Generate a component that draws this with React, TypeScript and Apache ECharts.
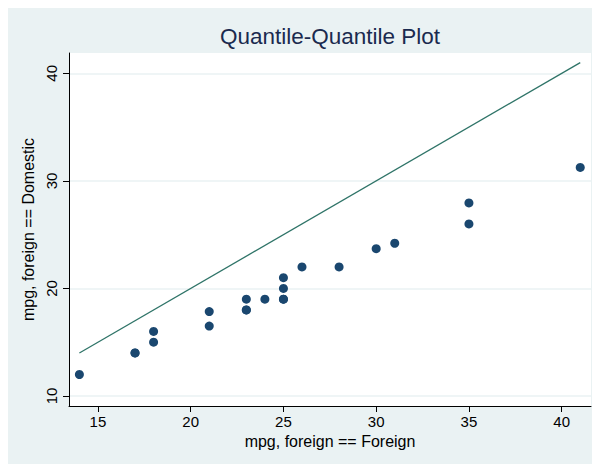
import React, { useEffect, useRef } from "react";
import * as echarts from "echarts";

const titleText = "Quantile-Quantile Plot";
const xAxisName = "mpg, foreign == Foreign";
const yAxisName = "mpg, foreign == Domestic";

// Quantiles: foreign (x) vs domestic (y)
const foreignQ = [14, 17, 17, 18, 18, 21, 21, 23, 23, 23, 24, 25, 25, 25, 25, 26, 28, 30, 31, 35, 35, 41];
const domesticQ = [12, 14, 14, 15, 16, 16.5, 17.85, 18, 18, 19, 19, 19, 19, 20, 21, 22, 22, 23.7, 24.2, 26, 27.95, 31.25];

// Reference line y = x
const refLineX = [14, 41];
const refLineY = [14, 41];

const xTicks = [15, 20, 25, 30, 35, 40];
const yTicks = [10, 20, 30, 40];

export default function App() {
  const ref = useRef<HTMLDivElement>(null);
  useEffect(() => {
    if (!ref.current) return;
    const chart = echarts.init(ref.current, undefined, { renderer: "svg" });
    const font = "'Liberation Sans', Arial, sans-serif";
    chart.setOption({
      animation: false,
      backgroundColor: "#eaf2f3",
      textStyle: { fontFamily: font },
      graphic: [
        {
          type: "text",
          x: 322,
          y: 28,
          style: {
            text: titleText,
            fontFamily: font,
            fontSize: 22.5,
            fill: "#1a2a4f",
            textAlign: "center",
            textVerticalAlign: "middle",
          },
        },
      ],
      grid: {
        left: 61,
        top: 45,
        right: 9,
        bottom: 58,
        show: true,
        backgroundColor: "#ffffff",
        borderWidth: 0,
        containLabel: false,
        outerBoundsMode: "none",
      },
      xAxis: {
        type: "value",
        min: 13.44,
        max: 41.58,
        name: xAxisName,
        nameLocation: "middle",
        nameGap: 24,
        nameTextStyle: { fontSize: 16, color: "#000", fontFamily: font },
        axisLine: { show: true, onZero: false, lineStyle: { color: "#000", width: 1 } },
        axisTick: { show: true, length: 6, customValues: xTicks, lineStyle: { color: "#000" } },
        axisLabel: {
          customValues: xTicks,
          fontSize: 15,
          color: "#000",
          margin: 8,
          fontFamily: font,
        },
        splitLine: { show: false },
      },
      yAxis: {
        type: "value",
        min: 9.07,
        max: 41.89,
        name: yAxisName,
        nameLocation: "middle",
        nameGap: 27,
        nameRotate: 90,
        nameTextStyle: { fontSize: 16, color: "#000", fontFamily: font },
        axisLine: { show: true, onZero: false, lineStyle: { color: "#000", width: 1 } },
        axisTick: { show: true, length: 6, customValues: yTicks, lineStyle: { color: "#000" } },
        axisLabel: {
          customValues: yTicks,
          fontSize: 15,
          color: "#000",
          margin: 10,
          rotate: 90,
          fontFamily: font,
        },
        splitLine: { show: true, lineStyle: { color: "#eaf2f3", width: 1.5 } },
      },
      series: [
        {
          type: "line",
          data: refLineX.map((x, i) => [x, refLineY[i]]),
          showSymbol: false,
          symbol: "none",
          lineStyle: { color: "#2f7468", width: 1.3 },
          z: 2,
        },
        {
          type: "scatter",
          data: foreignQ.map((x, i) => [x, domesticQ[i]]),
          symbol: "circle",
          symbolSize: 9,
          itemStyle: { color: "#1a476f", opacity: 1 },
          z: 3,
        },
      ],
    });
    return () => chart.dispose();
  }, []);
  return <div ref={ref} style={{ width: 592, height: 456 }} />;
}
